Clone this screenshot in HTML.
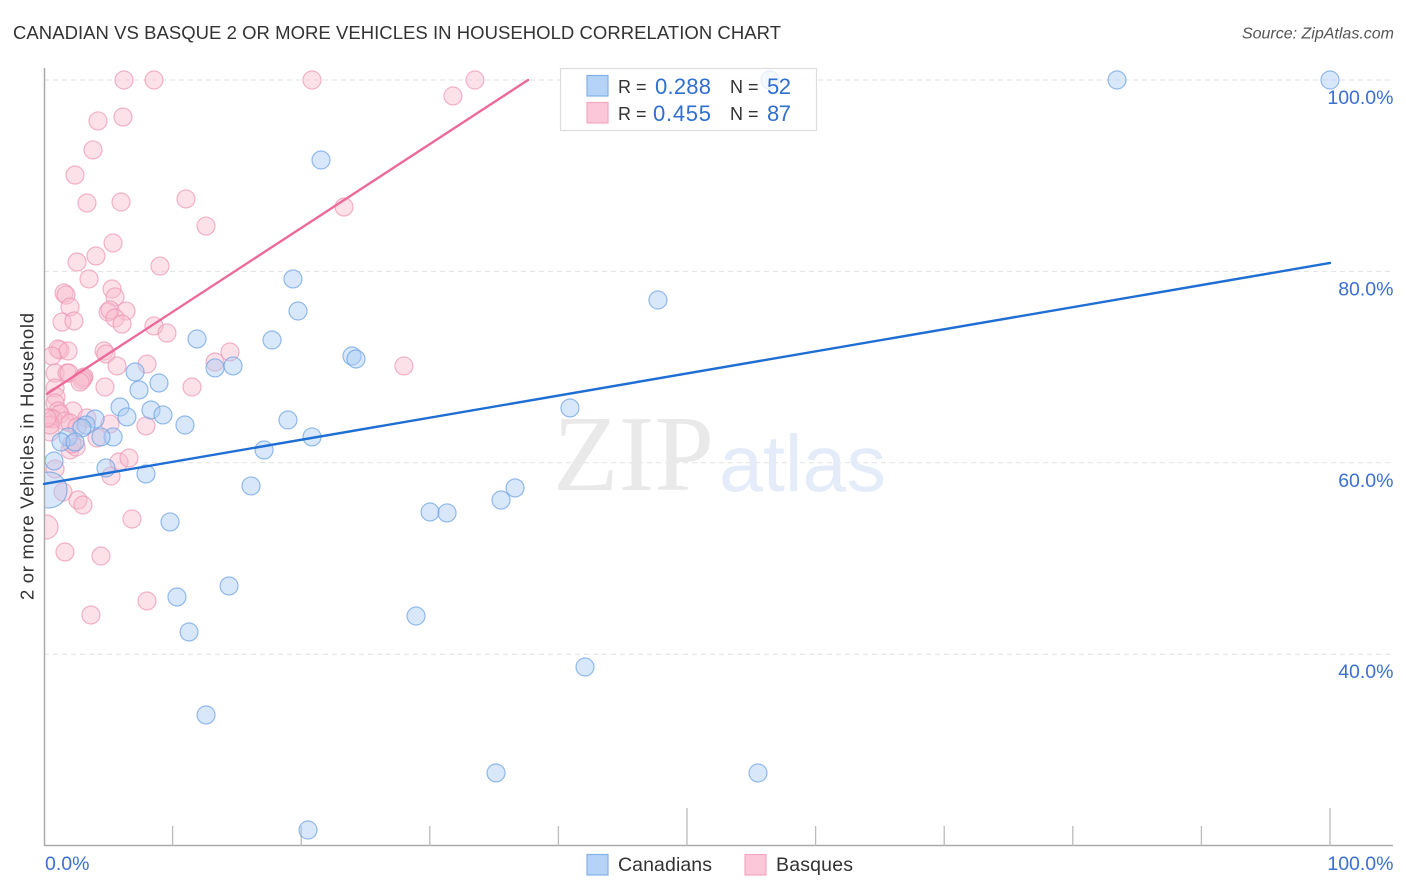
<!DOCTYPE html>
<html lang="en">
<head>
<meta charset="utf-8">
<title>Canadian vs Basque 2 or more Vehicles in Household Correlation Chart</title>
<style>
html,body{margin:0;padding:0;background:#fff;width:1406px;height:892px;overflow:hidden}
svg{display:block;font-family:"Liberation Sans",sans-serif}
</style>
</head>
<body>
<svg id="chart" xmlns="http://www.w3.org/2000/svg" width="1406" height="892" viewBox="0 0 1406 892">
  <defs><clipPath id="plot-clip"><rect x="45" y="0" width="1361" height="846"/></clipPath></defs>
  <rect x="0" y="0" width="1406" height="892" fill="#fff"/>
  <text x="13" y="39" font-size="18.5" fill="#333" textLength="768" lengthAdjust="spacing">CANADIAN VS BASQUE 2 OR MORE VEHICLES IN HOUSEHOLD CORRELATION CHART</text>
  <text x="1394" y="38.5" font-size="16" font-style="italic" fill="#555" text-anchor="end">Source: ZipAtlas.com</text>
  <g id="grid"></g>
  <g>
    <text x="553" y="490" font-family="'Liberation Serif',serif" font-size="108" fill="#e9e9e9" textLength="161" lengthAdjust="spacingAndGlyphs">ZIP</text>
    <text x="719" y="491" font-size="80" fill="#e4ecfa" textLength="167" lengthAdjust="spacingAndGlyphs">atlas</text>
  </g>
  <g id="axes"></g>
  <g id="points" clip-path="url(#plot-clip)"></g>
  <g id="trends"></g>
  <g id="tick-labels"></g>
  <g>
    <rect x="560.5" y="68.5" width="256" height="62" fill="#fff" fill-opacity="0.75" stroke="#ddd" stroke-width="1.2"/>
    <rect x="587" y="75.5" width="21" height="20.5" fill="#b5d2f7" stroke="#82b1ea" stroke-width="1.2"/>
    <rect x="587" y="102.5" width="21" height="20.5" fill="#fcc7d8" stroke="#f2a8c1" stroke-width="1.2"/>
    <text x="618" y="93" font-size="18" fill="#333">R =</text>
    <text x="655" y="94" font-size="22" fill="#2f6fd0" textLength="56" lengthAdjust="spacing">0.288</text>
    <text x="730" y="93" font-size="18" fill="#333">N =</text>
    <text x="767" y="94" font-size="22" fill="#2f6fd0" textLength="24" lengthAdjust="spacing">52</text>
    <text x="618" y="120" font-size="18" fill="#333">R =</text>
    <text x="653" y="121" font-size="22" fill="#2f6fd0" textLength="58" lengthAdjust="spacing">0.455</text>
    <text x="730" y="120" font-size="18" fill="#333">N =</text>
    <text x="767" y="121" font-size="22" fill="#2f6fd0" textLength="24" lengthAdjust="spacing">87</text>
  </g>
  <text transform="translate(33.5,456.5) rotate(-90)" font-size="18.5" fill="#333" text-anchor="middle" textLength="287" lengthAdjust="spacing">2 or more Vehicles in Household</text>
  <g>
    <rect x="587" y="854.5" width="21" height="20.5" fill="#b5d2f7" stroke="#82b1ea" stroke-width="1.2"/>
    <text x="618" y="871" font-size="19.5" fill="#333" textLength="94" lengthAdjust="spacing">Canadians</text>
    <rect x="745" y="854.5" width="21" height="20.5" fill="#fcc7d8" stroke="#f2a8c1" stroke-width="1.2"/>
    <text x="776" y="871" font-size="19.5" fill="#333" textLength="77" lengthAdjust="spacing">Basques</text>
  </g>
</svg>
<script>
var yTickValues = [40, 60, 80, 100];
var yTickLabels = ["40.0%", "60.0%", "80.0%", "100.0%"];
var xTickValues = [0, 10, 20, 30, 40, 50, 60, 70, 80, 90, 100];
var xTickLabelValues = [0, 100];
var xTickLabels = ["0.0%", "100.0%"];
var majorXTicks = [50, 100];

var canadianX = [56.45,83.44,100,21.54,19.36,47.74,19.75,11.90,17.73,23.95,24.26,13.30,14.70,7.08,8.94,7.39,5.91,8.32,9.25,6.45,10.96,18.97,40.90,3.97,3.27,2.95,5.37,4.43,1.87,1.32,2.41,20.84,17.11,0.78,4.82,7.93,16.10,36.63,35.54,30.02,31.34,9.80,14.39,10.34,28.93,11.28,42.07,12.60,35.15,55.52,20.53,0.39];
var canadianY = [100,100,100,91.64,79.21,77.01,75.86,72.94,72.83,71.16,70.85,69.91,70.12,69.49,68.34,67.61,65.83,65.52,65.00,64.79,63.95,64.47,65.73,64.58,63.95,63.64,62.70,62.70,62.70,62.17,62.17,62.70,61.34,60.19,59.46,58.83,57.58,57.37,56.11,54.86,54.76,53.82,47.13,45.98,43.99,42.32,38.66,33.65,27.59,27.59,21.63,57.16];
var canadianWeight = [1,1,1,1,1,1,1,1,1,1,1,1,1,1,1,1,1,1,1,1,1,1,1,1,1,1,1,1,1,1,1,1,1,1,1,1,1,1,1,1,1,1,1,1,1,1,1,1,1,1,1,4];

var basqueX = [6.22,8.55,20.84,33.51,31.80,6.14,4.20,3.81,2.41,3.34,5.99,11.04,12.60,23.33,5.37,4.04,2.57,9.02,3.50,5.29,1.56,1.71,5.52,2.02,1.40,2.33,4.98,5.13,6.38,5.52,6.07,8.55,9.56,4.67,4.82,1.24,1.09,1.87,0.62,5.68,8.01,13.30,14.46,27.99,0.86,1.79,1.94,3.11,3.03,2.95,2.80,0.86,4.74,11.51,0.93,0.86,2.26,1.09,1.24,0.47,0.70,3.34,1.63,2.02,2.57,0.47,5.13,4.12,7.93,2.02,2.49,2.18,5.83,6.61,0.86,5.21,1.48,2.64,3.03,6.84,0.16,1.63,4.43,8.01,3.65,0.47,0.23];
var basqueY = [100,100,100,100,98.33,96.13,95.72,92.69,90.07,87.15,87.25,87.57,84.74,86.73,82.97,81.61,80.98,80.56,79.21,78.16,77.74,77.53,77.33,76.28,74.71,74.82,75.76,75.97,75.86,75.13,74.50,74.30,73.56,71.68,71.37,71.79,71.89,71.68,71.16,70.12,70.32,70.53,71.58,70.12,69.38,69.38,69.38,68.97,68.86,68.65,68.44,67.82,67.92,67.92,66.88,66.25,65.41,65.41,65.10,64.68,64.58,64.68,64.37,64.16,63.74,63.22,64.06,62.59,63.85,61.34,61.65,61.97,60.08,60.50,59.35,58.62,56.95,56.11,55.59,54.13,53.29,50.68,50.26,45.56,44.10,63.95,64.68];
var basqueWeight = [1,1,1,1,1,1,1,1,1,1,1,1,1,1,1,1,1,1,1,1,1,1,1,1,1,1,1,1,1,1,1,1,1,1,1,1,1,1,1,1,1,1,1,1,1,1,1,1,1,1,1,1,1,1,1,1,1,1,1,1,1,1,1,1,1,1,1,1,1,1,1,1,1,1,1,1,1,1,1,1,1.78,1,1,1,1,1,1];

var canadianTrendX = [0, 100];
var canadianTrendY = [57.79, 80.88];
var basqueTrendX = [0, 37.64];
var basqueTrendY = [67.0, 100];

var NS = "http://www.w3.org/2000/svg";
function xScale(v) { return 44 + v * 12.86; }
function yScale(v) { return 80 + (100 - v) * 9.57; }
function rScale(w) { return 9 * Math.sqrt(w); }
function make(tag, parent, attrs) {
  var node = document.createElementNS(NS, tag);
  for (var k in attrs) { node.setAttribute(k, attrs[k]); }
  parent.appendChild(node);
  return node;
}

var grid = document.getElementById("grid");
var axes = document.getElementById("axes");
var points = document.getElementById("points");
var trends = document.getElementById("trends");
var tickLabels = document.getElementById("tick-labels");

yTickValues.forEach(function (v) {
  var line = make("line", grid, {x1: 44, x2: 1393, y1: yScale(v), y2: yScale(v), stroke: "#e2e2e2", "stroke-width": 1, "stroke-dasharray": "5 4"});
  
  
});

var yAxisLine = make("line", axes, {x1: 44.5, x2: 44.5, y1: 68, y2: 846, stroke: "#aaa", "stroke-width": 1.5});


var xAxisLine = make("line", axes, {x1: 44, x2: 1393, y1: 845.5, y2: 845.5, stroke: "#aaa", "stroke-width": 1.5});



xTickValues.forEach(function (v) {
  if (v === 0) { return; }
  var top = majorXTicks.indexOf(v) >= 0 ? 808 : 826;
  var tick = make("line", axes, {x1: xScale(v), x2: xScale(v), y1: top, y2: 846, stroke: "#bbb", "stroke-width": 1.3});
  
  
});

function drawSeries(name, xs, ys, weights, fill, stroke) {
  xs.forEach(function (v, i) {
    var c = make("circle", points, {cx: xScale(v), cy: yScale(ys[i]), r: rScale(weights[i]), fill: fill, "fill-opacity": 0.45, stroke: stroke, "stroke-opacity": 0.7, "stroke-width": 1.2});
    
    
  });
}
drawSeries("basque", basqueX, basqueY, basqueWeight, "#f9bccf", "#ec94b4");
drawSeries("canadian", canadianX, canadianY, canadianWeight, "#a9cbf5", "#6a9fe2");

var canadianLine = make("line", trends, {x1: xScale(canadianTrendX[0]), y1: yScale(canadianTrendY[0]), x2: xScale(canadianTrendX[1]), y2: yScale(canadianTrendY[1]), stroke: "#1f6ed4", "stroke-width": 2.4, "stroke-linecap": "round"});


var basqueLine = make("line", trends, {x1: xScale(basqueTrendX[0]) + 3, y1: yScale(basqueTrendY[0]) - 2, x2: xScale(basqueTrendX[1]), y2: yScale(basqueTrendY[1]), stroke: "#ec6a9a", "stroke-width": 2.4, "stroke-linecap": "round"});



yTickValues.forEach(function (v, i) {
  var t = make("text", tickLabels, {x: 1393.5, y: yScale(v) + 24, "font-size": 19.5, fill: "#3b6fd1", "text-anchor": "end"});
  t.textContent = yTickLabels[i];
  
  
});
xTickLabelValues.forEach(function (v, i) {
  var isLast = i === xTickLabelValues.length - 1;
  var t = make("text", tickLabels, {x: isLast ? 1393.5 : 45, y: 870, "font-size": 19.5, fill: "#3b6fd1", "text-anchor": isLast ? "end" : "start"});
  t.textContent = xTickLabels[i];
  
  
});
</script>
</body>
</html>
